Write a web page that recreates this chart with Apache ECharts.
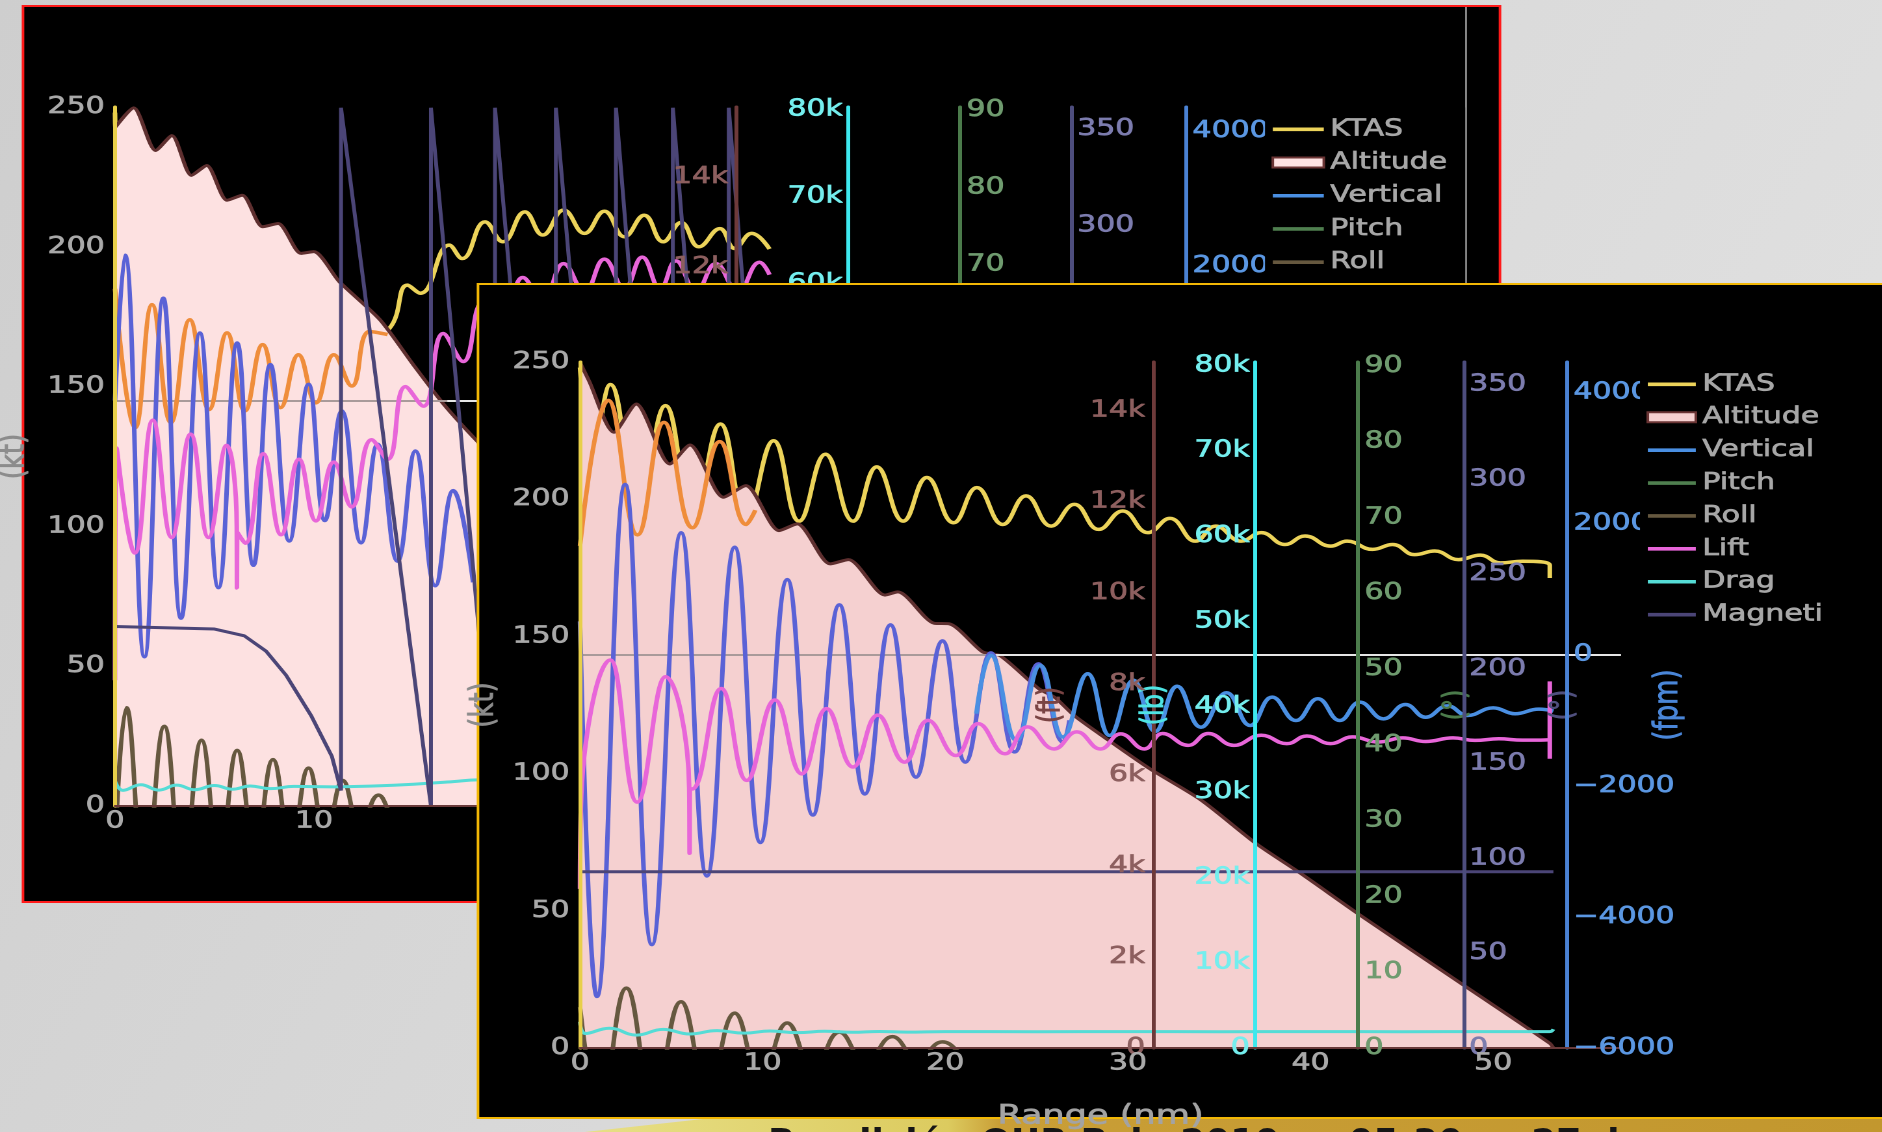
<!DOCTYPE html>
<html>
<head>
<meta charset="utf-8">
<title>Flight profile</title>
<script src="https://cdn.jsdelivr.net/npm/echarts@6/dist/echarts.min.js"></script>
<style>
  html, body { margin: 0; padding: 0; width: 1882px; height: 1132px; overflow: hidden; background: #d8d8d8; }
  .layer { position: absolute; left: 0; top: 0; height: 1132px; }
  #bg { width: 1882px; }
  /* the captured slide is stretched horizontally, so the two chart layers are too */
  .stretched { width: 1448px; transform: scaleX(1.3); transform-origin: 0 0; }
</style>
</head>
<body>
<div id="bg" class="layer"></div>
<div id="back" class="layer stretched"></div>
<div id="front" class="layer stretched"></div>
<script>
const SX = 1.3;
const hx = v => v / SX;
const FONT = '"DejaVu Sans", Verdana, sans-serif';

// ---------- data (x = range in nm) ----------
const legendNames = ['KTAS', 'Altitude', 'Vertical Speed', 'Pitch', 'Roll', 'Lift', 'Drag', 'Magnetic Heading'];

// front chart
const frontKtas = [[0,248],[0.7,216],[1.66,241.8],[3.2,196],[4.68,234.1],[6.2,194],[7.69,227.4],[9.1,193],[10.6,221.3],[12.0,192],[13.44,216.4],[14.95,192],[16.25,211.8],[17.7,192],[18.99,207.9],[20.46,191.4],[21.73,204.2],[23.15,190.8],[24.42,201.2],[25.8,190.2],[27.07,198.1],[28.4,189],[29.71,195.7],[31.1,187.8],[32.3,193],[33.7,184.7],[34.8,190.2],[36.2,184.7],[37.3,187.8],[38.6,183.5],[39.7,186.6],[41.1,182.9],[42.0,184.7],[43.4,181.7],[44.5,183.5],[45.7,179.8],[46.8,181.1],[48.1,178],[49.3,179.6],[50.4,176.8],[51.6,177.4],[53.1,175.9],[53.1,171.3]];
const frontAltitude = [[0,15060],[0.5,14650],[1.86,13526],[3.08,14148],[4.92,12830],[6.02,13247],[7.86,12100],[9.08,12355],[10.9,11366],[11.9,11514],[13.7,10635],[14.7,10729],[16.7,9950],[17.4,10020],[19.4,9330],[20.2,9320],[22.05,8700],[23.0,8620],[25.1,7900],[26.0,7700],[27.07,7300],[28.8,6800],[31.2,6134],[34.0,5448],[37.0,4497],[39.45,3838],[42.7,2922],[48.5,1347],[53.1,103],[53.3,0]];
const frontKcas = [[0,183],[1.55,236],[3.15,187],[4.6,228],[6.15,189.6],[7.65,221],[9.1,190.8],[9.6,196]];
const frontVsRaw = [[0,509],[0.93,-5213],[2.47,2598],[3.94,-4422],[5.54,1861],[6.95,-3375],[8.47,1639],[9.88,-2865],[11.35,1145],[12.75,-2446],[14.2,760],[15.6,-2124],[17.0,455],[18.4,-1868],[19.85,212],[21.1,-1638],[22.5,28],[23.8,-1483],[25.1,-140],[26.45,-1333],[26.8,-1000]];
const frontVs = [[21.7,-900],[22.5,-10],[23.9,-1308],[25.2,-165],[26.45,-1255],[27.8,-290],[29.0,-1232],[30.3,-390],[31.5,-1170],[32.7,-480],[34.0,-1106],[35.4,-580],[36.7,-1080],[37.9,-646],[39.2,-1004],[40.4,-672],[41.6,-1004],[42.7,-723],[44.0,-978],[45.2,-760],[46.3,-953],[47.5,-780],[48.6,-927],[50.0,-810],[51.2,-901],[52.5,-830],[53.3,-860]];
const frontPitch = [];
const frontRoll = [[0,5.4],[1.1,-8],[2.54,7.9],[4.03,-7],[5.53,6.1],[7.0,-5.5],[8.47,4.6],[9.9,-4.2],[11.35,3.3],[12.8,-3],[14.2,2.1],[15.65,-2],[17.1,1.5],[18.5,-1.5],[19.85,0.8],[21.3,-1],[23,-0.6],[53.3,-0.5]];
const frontLift = [[0,18650],[0.05,28300],[1.66,45470],[3.13,28820],[4.68,43510],[5.98,30420],[6.0,22830],[6.02,30390],[6.14,30360],[7.73,42130],[9.13,31360],[10.67,40780],[12.14,32130],[13.5,39780],[14.95,32930],[16.3,39010],[17.77,33510],[19.06,38400],[20.58,34280],[21.8,38010],[23.27,34480],[24.5,37630],[25.96,35050],[27.2,37050],[28.5,35050],[29.6,36820],[30.9,35050],[31.9,36860],[33.3,35470],[34.4,36860],[35.8,35470],[37.3,36660],[38.7,35670],[39.8,36570],[41.1,35670],[42.3,36470],[43.7,35860],[45.05,36340],[46.3,35920],[47.8,36340],[49.0,36050],[50.3,36240],[51.6,36080],[53.1,36150],[53.1,42970],[53.1,33900]];
const frontDrag = [[0,3060],[0.3,1700],[1.6,2320],[3.1,1510],[4.55,2190],[6.0,1640],[7.5,2030],[9.0,1740],[10.4,1990],[11.9,1800],[13.4,1960],[14.9,1840],[16.4,1940],[17.9,1860],[20,1920],[25,1910],[30,1920],[35,1910],[40,1920],[45,1910],[50,1920],[53.1,1920],[53.3,2200]];
const frontMagnetic = [[0,93],[53.3,93]];

// back chart
const backKtas = [[0,248],[1.2,200],[7,178],[12.5,168],[13.8,170.9],[14.7,186.3],[15.35,183.4],[16.8,200.6],[17.45,195.8],[18.6,208.9],[19.5,201.8],[20.6,212.5],[21.5,204.2],[22.55,213.1],[23.6,204.8],[24.6,212.7],[25.6,203.6],[26.6,211.3],[27.55,201.8],[28.45,208.7],[29.35,200],[30.4,206.5],[31.15,199.4],[32.0,204.8],[32.9,199.2]];
const backAltitude = [[0,15100],[0.94,15540],[2.04,14593],[2.86,14924],[3.84,14038],[4.61,14259],[5.63,13484],[6.4,13595],[7.42,12894],[8.2,12967],[9.35,12302],[9.99,12340],[11.27,11674],[13.32,10824],[14.99,9826],[16.53,8940],[18.19,8128],[22,6400],[26,4600],[30,2700],[32.9,1300]];
const backKcas = [[0,185],[1.02,135.3],[1.86,179.3],[2.81,137.1],[3.76,173.9],[4.73,141.8],[5.63,169.2],[6.53,141.3],[7.42,165],[8.32,142.5],[9.22,161.4],[10.1,144.2],[11.0,161.4],[11.9,150.2],[12.8,169.7],[13.7,168.6]];
const backVsRaw = [[0,6],[0.5,2160],[1.48,-3788],[2.43,1522],[3.32,-3217],[4.27,1008],[5.2,-2765],[6.14,859],[6.96,-2434],[7.81,540],[8.76,-2073],[9.73,246],[10.55,-1771],[11.4,-147],[12.37,-2102],[13.2,-640],[14.2,-2372],[15.1,-740],[16.1,-2736],[17.0,-1328],[18.0,-2686]];
const backVs = [];
const backPitch = [];
const backRoll = [[0,-6],[0.58,12.7],[1.5,-10],[2.48,10.3],[3.4,-8.5],[4.35,8.5],[5.25,-7],[6.14,7.2],[7.05,-6],[7.94,6],[8.85,-5],[9.73,4.9],[10.6,-4],[11.45,3.3],[12.35,-3],[13.25,1.4],[14.2,-1.5],[15.5,-0.6],[32.9,-0.5]];
const backLift = [[0,14450],[0.08,41110],[1.0,29070],[1.9,44330],[2.85,30840],[3.8,42720],[4.7,30840],[5.6,41430],[6.12,32120],[6.13,25050],[6.14,31480],[6.55,30190],[7.45,40470],[8.35,31160],[9.25,39830],[10.1,32760],[11.0,39510],[11.9,34370],[12.9,42080],[13.7,39830],[14.6,48180],[15.5,45930],[16.5,54280],[17.5,51070],[18.5,57820],[19.5,55250],[20.5,60710],[21.5,58140],[22.55,62310],[23.6,59100],[24.6,62830],[25.6,59420],[26.5,63050],[27.4,59420],[28.2,62630],[29.2,59100],[30.2,62310],[31.3,59100],[32.4,62470],[32.9,61030]];
const backDrag = [[0,2890],[0.4,1800],[1.3,2440],[2.2,1830],[3.1,2400],[4.0,1870],[5.0,2350],[5.9,1930],[6.8,2300],[7.8,1990],[9.0,2250],[11,2200],[13,2300],[15,2500],[17,2800],[18.2,3000],[25,3100],[32.9,3200]];
const backMagnetic = [[0,92.8],[5,91.5],[6.5,88],[7.6,80],[8.6,67.6],[9.86,46.7],[10.9,25.7],[11.36,8],[11.36,361],[15.88,0],[15.88,361],[19.1,0],[19.1,361],[22.16,0],[22.16,361],[25.18,0],[25.18,361],[28.04,0],[28.04,361],[30.85,0],[30.85,361],[32.9,96]];

// ---------- layout (screen px of the 1882 wide slide) ----------
const frontLayout = {
  plot: { left: 580, right: 1621, top: 362, bottom: 1048 },
  axes: { alt: 1153, lb: 1255, deg: 1358, mag: 1464, fpm: 1567 },
  max: { x: 57, alt: 15070, lb: 80400, deg: 90.5, mag: 362, fpm: 4466 },
  legend: { left: 1640, top: 362.5, gap: 9.2, symbolW: 48 },
  panel: { x: 478, y: 284, right: 1900, bottom: 1118, stroke: '#f2b705' },
  fill: '#f5d0d0', zeroSplit: 22.6, ktGap: 61
};
const backLayout = {
  plot: { left: 115, right: 1249, top: 107, bottom: 806 },
  axes: { alt: 736, lb: 848, deg: 960, mag: 1072, fpm: 1186 },
  max: { x: 57, alt: 15560, lb: 80300, deg: 90.4, mag: 361.4, fpm: 4356 },
  legend: { left: 1265, top: 107.5, gap: 9.5, symbolW: 51 },
  panel: { x: 23, y: 6, right: 1500, bottom: 902, stroke: '#ff1a1a', divider: 1466 },
  fill: '#fde1e1', zeroSplit: 16.7, ktGap: 64
};

function textLook(color, size) {
  return { color, fontSize: size, fontFamily: FONT, textBorderColor: color, textBorderWidth: 0.7 };
}

function yAxisDef(o) {
  return {
    type: 'value', position: o.pos, offset: o.offset,
    min: o.min == null ? 0 : o.min, max: o.max, interval: o.interval, z: 6,
    axisLine: { show: true, onZero: false, lineStyle: { color: o.line, width: 3 } },
    axisTick: { show: false }, splitLine: { show: false },
    axisLabel: Object.assign(textLook(o.label, 23), { margin: o.margin,
      formatter: o.fmt, showMaxLabel: !!o.showMax, showMinLabel: true }),
    name: o.name, nameLocation: 'middle', nameGap: o.gap, nameRotate: 90, nameMoveOverlap: false,
    nameTextStyle: textLook(o.nameColor, o.nameSize)
  };
}

function line(name, data, yIdx, color, extra) {
  return Object.assign({
    name, type: 'line', data, yAxisIndex: yIdx, color,
    symbol: 'none', showSymbol: false, smooth: 0.45, z: 4, silent: true,
    lineStyle: { width: 3.5, color }, emphasis: { disabled: true }
  }, extra || {});
}

function buildOption(L, d) {
  const gl = hx(L.plot.left), gr = hx(L.plot.right);
  const leftOff = X => gl - hx(X);
  const rightOff = X => hx(X) - gr;
  const kFmt = v => (v === 0 ? '0' : v / 1000 + 'k');
  const fpmFmt = v => String(v).replace('-', '\u2212');
  const barIcon = 'path://M0,0M0,3.2L10,3.2L10,6.8L0,6.8ZM10,10';
  const P = L.panel;
  const panel = [{
    type: 'rect', z: -10, silent: true,
    shape: { x: hx(P.x), y: P.y, width: hx(P.right - P.x), height: P.bottom - P.y },
    style: { fill: '#000', stroke: P.stroke, lineWidth: 2 }
  }];
  if (P.divider) {
    panel.push({ type: 'line', z: -9, silent: true,
      shape: { x1: hx(P.divider), y1: P.y + 1, x2: hx(P.divider), y2: P.bottom - 1 },
      style: { stroke: '#d4d4d4', lineWidth: 1 } });
  }
  const zeroLine = {
    silent: true, symbol: ['none', 'none'], z: 3.5, animation: false,
    label: { show: false }, lineStyle: { type: 'solid', width: 2 },
    data: [
      [{ coord: [0, 0], lineStyle: { color: '#a99a9a', width: 2, type: 'solid' } }, { coord: [L.zeroSplit, 0] }],
      [{ coord: [L.zeroSplit, 0], lineStyle: { color: '#e6e6e6', width: 2, type: 'solid' } }, { coord: [L.max.x, 0] }]
    ]
  };
  return {
    animation: false,
    graphic: { elements: panel },
    grid: { left: gl, top: L.plot.top, width: gr - gl, height: L.plot.bottom - L.plot.top,
      containLabel: false, outerBoundsMode: 'none' },
    legend: {
      orient: 'vertical', left: hx(L.legend.left), top: L.legend.top, z: 10,
      backgroundColor: '#000', padding: [10, 10, 10, 5],
      itemWidth: hx(L.legend.symbolW), itemHeight: 10, itemGap: L.legend.gap,
      symbolKeepAspect: false, selectedMode: false,
      itemStyle: { borderWidth: 0 },
      textStyle: Object.assign(textLook('#a7a7a7', 23), { width: 106, overflow: 'truncate', ellipsis: '' }),
      data: legendNames.map(n => n === 'Altitude'
        ? { name: n, icon: 'rect', itemStyle: { color: L.fill, borderColor: '#6a3434', borderWidth: 2 } }
        : { name: n, icon: barIcon })
    },
    xAxis: {
      type: 'value', min: 0, max: L.max.x, interval: 10, z: 6,
      axisLine: { show: true, onZero: false, lineStyle: { color: '#6a3a3a', width: 2 } },
      axisTick: { show: false }, splitLine: { show: false },
      axisLabel: Object.assign(textLook('#a9a9a9', 23), { margin: 4, showMaxLabel: false }),
      name: 'Range (nm)', nameLocation: 'middle', nameGap: 55, nameMoveOverlap: false,
      nameTextStyle: textLook('#a3a3a3', 27)
    },
    yAxis: [
      yAxisDef({ pos: 'left', offset: 0, max: 250, interval: 50, line: '#e8cf4a', label: '#a9a9a9', margin: 8,
        name: '(kt)', nameColor: '#8c8c8c', nameSize: 26, gap: L.ktGap, showMax: true }),
      yAxisDef({ pos: 'left', offset: leftOff(L.axes.alt), max: L.max.alt, interval: 2000, line: '#6e3a3a',
        label: '#8d5f5f', margin: 6, fmt: kFmt, name: '(ft)', nameColor: '#7a4444', nameSize: 24, gap: 66 }),
      yAxisDef({ pos: 'left', offset: leftOff(L.axes.lb), max: L.max.lb, interval: 10000, line: '#3ee8ee',
        label: '#74eeee', margin: 4, fmt: kFmt, name: '(lb)', nameColor: '#4fe4e4', nameSize: 24, gap: 65 }),
      yAxisDef({ pos: 'right', offset: rightOff(L.axes.deg), max: L.max.deg, interval: 10, line: '#4b7b4b',
        label: '#6f9b6f', margin: 5, name: '(°)', nameColor: '#4b7b4b', nameSize: 24, gap: 64 }),
      yAxisDef({ pos: 'right', offset: rightOff(L.axes.mag), max: L.max.mag, interval: 50, line: '#4d4d7d',
        label: '#7c7cae', margin: 4, name: '(°)', nameColor: '#50507e', nameSize: 24, gap: 65 }),
      yAxisDef({ pos: 'right', offset: rightOff(L.axes.fpm), min: -6000, max: L.max.fpm, interval: 2000,
        line: '#4a82d4', label: '#5b97e2', margin: 5, fmt: fpmFmt, name: '(fpm)', nameColor: '#4a86d8',
        nameSize: 26, gap: 65 })
    ],
    series: [
      line('KTAS', d.ktas, 0, '#ecd35a', { z: 2 }),
      line('Altitude', d.altitude, 1, '#5e2f2f', { z: 3, smooth: 0.25,
        lineStyle: { width: 3, color: '#5e2f2f' }, areaStyle: { color: L.fill, opacity: 1 } }),
      line('KCAS', d.kcas, 0, '#ef8d3b'),
      line('Vertical Speed raw', d.vsRaw, 5, '#5a62d6', { markLine: zeroLine }),
      line('Vertical Speed', d.vs, 5, '#4a8fe2'),
      line('Pitch', d.pitch, 3, '#4f7f4f'),
      line('Roll', d.roll, 3, '#66583f'),
      line('Lift', d.lift, 2, '#e866d9'),
      line('Drag', d.drag, 2, '#55dcd6', { lineStyle: { width: 3, color: '#55dcd6' } }),
      line('Magnetic Heading', d.mag, 4, '#4b4577', { smooth: false, lineStyle: { width: 3, color: '#4b4577' } })
    ]
  };
}

// ---------- background slide ----------
const bg = echarts.init(document.getElementById('bg'), null, { renderer: 'canvas' });
bg.setOption({
  animation: false,
  graphic: { elements: [
    { type: 'rect', silent: true, shape: { x: 0, y: 0, width: 1882, height: 1132 },
      style: { fill: new echarts.graphic.LinearGradient(0, 0, 1, 1, [
        { offset: 0, color: '#cecece' }, { offset: 0.5, color: '#d9d9d9' }, { offset: 1, color: '#e3e3e3' }]) } },
    { type: 'polygon', silent: true,
      shape: { points: [[585, 1132], [730, 1116], [1882, 1116], [1882, 1132]] },
      style: { fill: new echarts.graphic.LinearGradient(0, 0, 1, 0, [
        { offset: 0, color: '#e7df86' }, { offset: 0.28, color: '#dccb5f' },
        { offset: 0.32, color: '#c99e36' }, { offset: 1, color: '#c2972e' }]) } },
    { type: 'text', silent: true,
      style: { x: 768, y: 1127, text: 'Rendición OUR Pal   2019  –  05:30  –  27 d',
        font: 'bold 36px "DejaVu Sans"', fill: '#161616', verticalAlign: 'top' } }
  ] }
});

const back = echarts.init(document.getElementById('back'), null, { renderer: 'canvas', devicePixelRatio: 2 });
back.setOption(buildOption(backLayout, {
  ktas: backKtas, altitude: backAltitude, kcas: backKcas, vsRaw: backVsRaw, vs: backVs,
  pitch: backPitch, roll: backRoll, lift: backLift, drag: backDrag, mag: backMagnetic
}));

const front = echarts.init(document.getElementById('front'), null, { renderer: 'canvas', devicePixelRatio: 2 });
front.setOption(buildOption(frontLayout, {
  ktas: frontKtas, altitude: frontAltitude, kcas: frontKcas, vsRaw: frontVsRaw, vs: frontVs,
  pitch: frontPitch, roll: frontRoll, lift: frontLift, drag: frontDrag, mag: frontMagnetic
}));
</script>
</body>
</html>
